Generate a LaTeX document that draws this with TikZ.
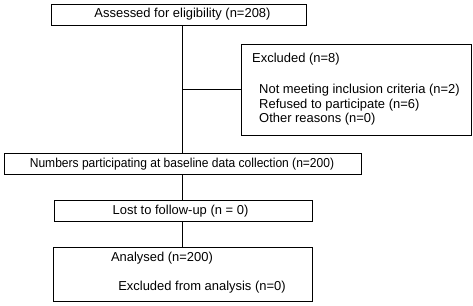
\documentclass[tikz,border=0pt]{standalone}
\usepackage{fontspec}
\setmainfont{Liberation Sans}
\begin{document}
\begin{tikzpicture}[x=1bp,y=-1bp,
  box/.style={draw,line width=0.8bp,inner sep=0pt},
  txt/.style={inner sep=0pt,font=\fontsize{13}{15}\selectfont},
  ltxt/.style={txt,anchor=west},
  conn/.style={line width=0.8bp}]
\useasboundingbox (0,0) rectangle (473,305);
% boxes
\node[box,minimum width=255bp,minimum height=21bp] (assess) at (178.5,14.5) {};
\node[txt] at (182.5,14.5) {Assessed for eligibility (n=208)};
\node[box,minimum width=230bp,minimum height=91bp] (excl) at (356,89.5) {};
\node[ltxt] at (252,59) {Excluded (n=8)};
\node[ltxt] at (259,90) {Not meeting inclusion criteria (n=2)};
\node[ltxt] at (259,105) {Refused to participate (n=6)};
\node[ltxt] at (259,119) {Other reasons (n=0)};
\node[box,minimum width=357bp,minimum height=21bp] (base) at (182.5,163.5) {};
\node[txt] at (182,164) {\scalebox{0.93}[1]{Numbers participating at baseline data collection (n=200)}};
\node[box,minimum width=258bp,minimum height=21bp] (lost) at (183,210.5) {};
\node[txt] at (180.5,211) {Lost to follow-up (n = 0)};
\node[box,minimum width=259bp,minimum height=54bp] (anal) at (182.5,274) {};
\node[txt] at (162,258) {Analysed (n=200)};
\node[txt] at (202,287) {Excluded from analysis (n=0)};
% connectors
\coordinate (j) at (182,89);
\draw[conn] (assess.south -| j) -- (base.north -| j);
\draw[conn] (j) -- (excl.west |- j);
\draw[conn] (base.south -| j) -- (lost.north -| j);
\draw[conn] (lost.south -| j) -- (anal.north -| j);
\end{tikzpicture}
\end{document}
